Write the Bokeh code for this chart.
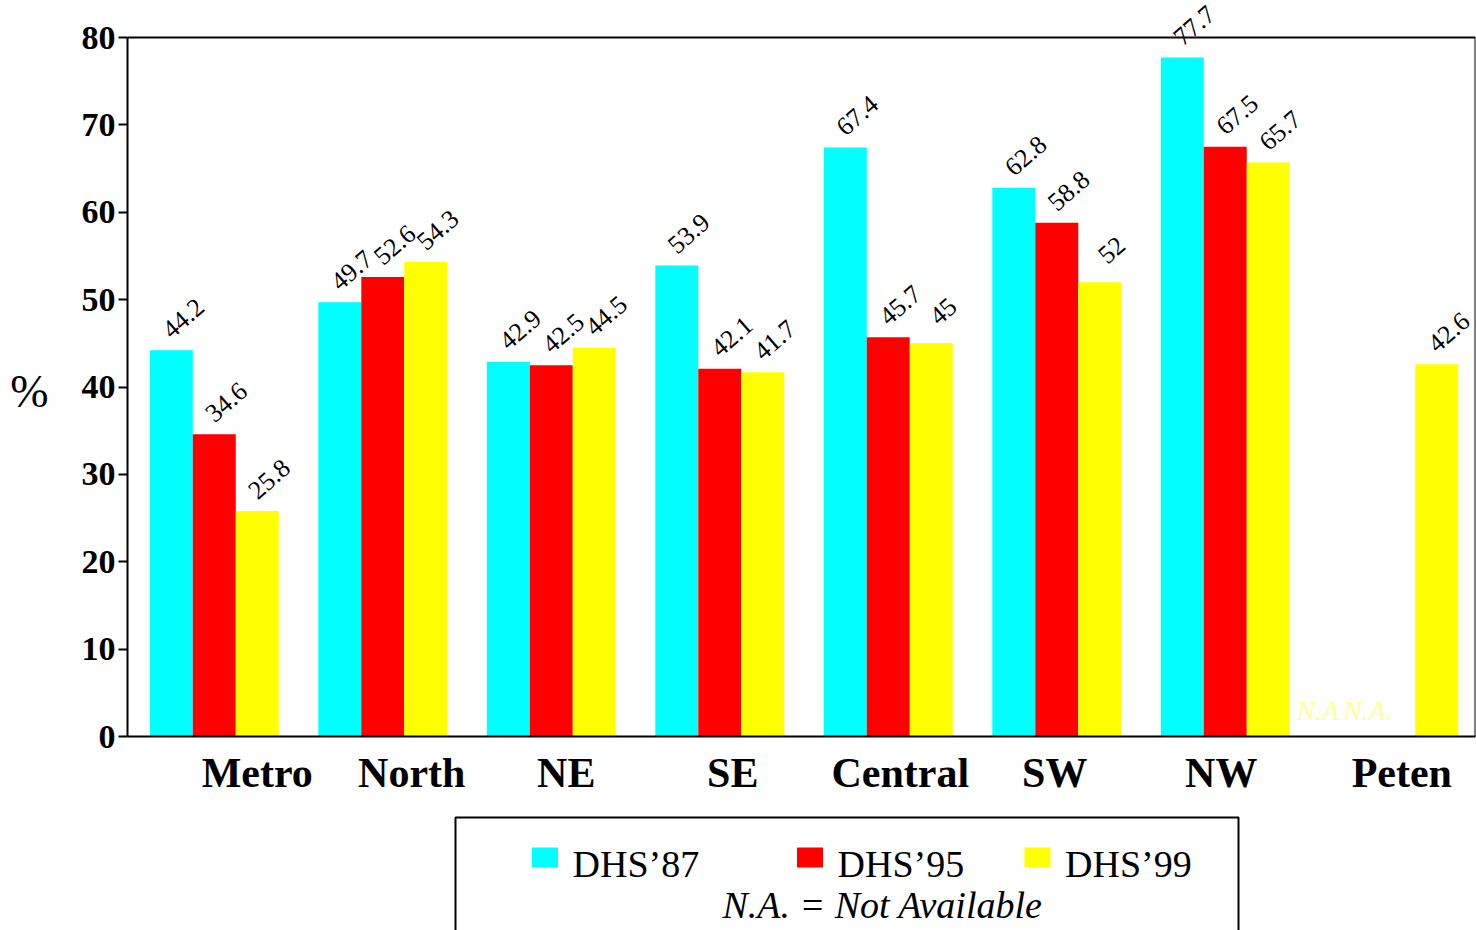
from bokeh.core.properties import value
from bokeh.embed import file_html
from bokeh.layouts import column
from bokeh.models import (ColumnDataSource, CustomJSTickFormatter, FixedTicker,
                          LabelSet, Range1d)
from bokeh.plotting import figure
from bokeh.resources import INLINE

# ---- data -------------------------------------------------------------
regions = ["Metro", "North", "NE", "SE", "Central", "SW", "NW", "Peten"]
series_names = ["DHS\u201987", "DHS\u201995", "DHS\u201999"]
dhs87 = [44.2, 49.7, 42.9, 53.9, 67.4, 62.8, 77.7, None]
dhs95 = [34.6, 52.6, 42.5, 42.1, 45.7, 58.8, 67.5, None]
dhs99 = [25.8, 54.3, 44.5, 41.7, 45.0, 52.0, 65.7, 42.6]
missing_text = ["N.A", "N.A."]
footnote = "N.A. = Not Available"
y_ticks = [0, 10, 20, 30, 40, 50, 60, 70, 80]
y_max = 80

# ---- styling ----------------------------------------------------------
colors = ["#00ffff", "#ff0000", "#ffff00"]
serif = "Liberation Serif"
bar_w = 0.255
FRAME_W = 1348
PLOT_H = 699          # pixel height of the 0..80 box
HEADROOM = 37         # room above the box for the tallest value labels
cat_px = FRAME_W / len(regions)
# horizontal nudge of each region name under its group (pixels)
name_nudge_px = [43, 29, 15, 13, 12, -2, -4, 8]

y_top = y_max * (PLOT_H + HEADROOM) / PLOT_H
n_cat = len(regions)

p = figure(frame_width=FRAME_W, frame_height=PLOT_H + HEADROOM,
           x_range=Range1d(-0.015, n_cat - 0.015), y_range=Range1d(0, y_top),
           output_backend="svg", toolbar_location=None,
           min_border_left=127, min_border_right=1,
           min_border_top=0, min_border_bottom=64)
p.background_fill_color = "white"
p.border_fill_color = "white"
p.outline_line_color = None
p.grid.visible = False

# box around the 0..80 area (top and right sides)
x_right = n_cat - 0.015
p.line(x=[-0.015, x_right, x_right], y=[y_max, y_max, 0], line_color="black",
       line_width=2)

series = [dhs87, dhs95, dhs99]
for k, (vals, col) in enumerate(zip(series, colors)):
    xs, tops, texts = [], [], []
    miss_x = []
    for i, v in enumerate(vals):
        cx = i + 0.5 + (k - 1) * bar_w
        if v is None:
            miss_x.append(cx)
        else:
            xs.append(cx)
            tops.append(v)
            texts.append(f"{v:g}")
    src = ColumnDataSource(dict(x=xs, top=tops, text=texts))
    p.vbar(x="x", top="top", width=bar_w, bottom=0, source=src,
           fill_color=col, line_color=None)
    p.add_layout(LabelSet(x="x", y="top", text="text", source=src,
                          angle=0.72, text_align="center",
                          text_baseline="middle", x_offset=12, y_offset=32,
                          text_font="DejaVu Sans", text_font_size="26px",
                          text_color="black"))
    if miss_x:
        msrc = ColumnDataSource(dict(x=miss_x, y=[0] * len(miss_x),
                                     text=missing_text[k:k + len(miss_x)]))
        p.text(x="x", y="y", text="text", source=msrc, x_offset=-33 + 7 * k,
               y_offset=-11, text_align="center", text_baseline="bottom",
               text_font=value(serif), text_font_style="italic",
               text_font_size="28px", text_color="#ffff9a")

# y axis
yax = p.yaxis[0]
yax.ticker = FixedTicker(ticks=y_ticks)
yax.bounds = (0, y_max)
yax.axis_line_width = 2
yax.major_tick_line_width = 2
yax.major_tick_in = 0
yax.major_tick_out = 9
yax.minor_tick_out = 0
yax.minor_tick_in = 0
yax.major_label_standoff = 3
yax.major_label_text_font = serif
yax.major_label_text_font_style = "bold"
yax.major_label_text_font_size = "34px"
yax.major_label_text_color = "black"
# leading blank line drops the symbol to the middle of the 0..80 span
yax.axis_label = "\n%"
yax.axis_label_orientation = "horizontal"
yax.axis_label_text_font = serif
yax.axis_label_text_font_style = "normal"
yax.axis_label_text_font_size = "46px"
yax.axis_label_text_line_height = 0.9
yax.axis_label_text_color = "black"
yax.axis_label_standoff = 30

# x axis: region names under each group
xax = p.xaxis[0]
xax.ticker = FixedTicker(ticks=[i + 0.5 + n / cat_px
                                for i, n in enumerate(name_nudge_px)])
xax.formatter = CustomJSTickFormatter(args=dict(names=regions),
                                      code="return names[Math.floor(tick)];")
xax.axis_line_width = 2
xax.major_tick_in = 0
xax.major_tick_out = 0
xax.minor_tick_in = 0
xax.minor_tick_out = 0
xax.major_label_standoff = 13
xax.major_label_text_font = serif
xax.major_label_text_font_style = "bold"
xax.major_label_text_font_size = "42px"
xax.major_label_text_color = "black"

# ---- legend box (frame-relative pixel coordinates) ---------------------
lg = figure(frame_width=FRAME_W, frame_height=130,
            x_range=Range1d(0, FRAME_W), y_range=Range1d(130, 0),
            output_backend="svg", toolbar_location=None,
            x_axis_location=None, y_axis_location=None,
            min_border_left=127, min_border_right=1,
            min_border_top=0, min_border_bottom=0)
lg.grid.visible = False
lg.outline_line_color = None
lg.background_fill_color = "white"
lg.border_fill_color = "white"

lg.quad(left=[328], right=[1111], top=[17], bottom=[131], fill_color=None,
        line_color="black", line_width=2)
sw_x = [417.5, 682.5, 910]
lg.rect(x=sw_x, y=[57] * 3, width=26, height=20, width_units="screen",
        height_units="screen", fill_color=colors, line_color=None)
lg.text(x=[x + 27.5 for x in sw_x], y=[63] * 3, text=series_names,
        text_align="left", text_baseline="middle", text_font=value(serif),
        text_font_size="38px", text_color="black")
lg.text(x=[755], y=[104], text=[footnote], text_align="center",
        text_baseline="middle", text_font=value(serif),
        text_font_style="italic", text_font_size="38px", text_color="black")

layout = column(p, lg, spacing=0)
open("out.html", "w").write(file_html(layout, INLINE))
